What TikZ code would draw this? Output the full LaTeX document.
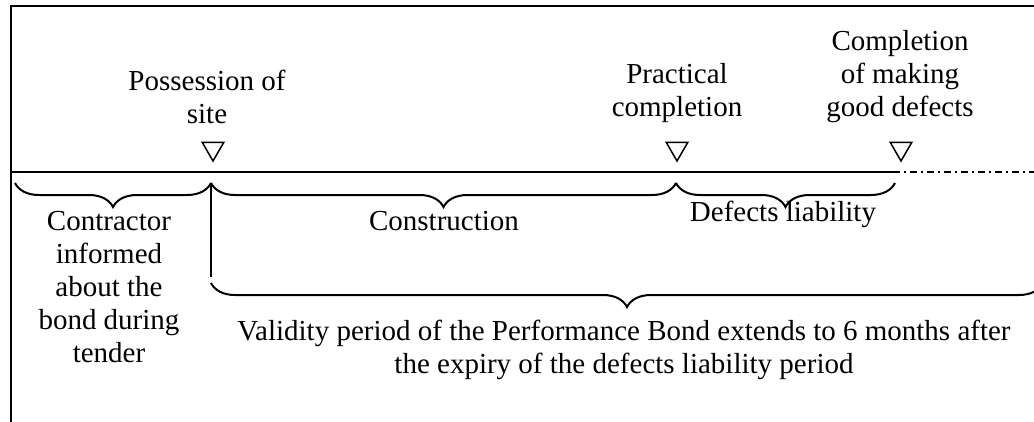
\documentclass[tikz,border=0pt]{standalone}
\usepackage{fontspec}
\setmainfont{Liberation Serif}
\usetikzlibrary{decorations.pathreplacing,shapes.geometric}
\begin{document}
\begin{tikzpicture}[x=1pt,y=-1pt,
  lbl/.style={font=\fontsize{29}{33}\selectfont, align=center, inner sep=0pt, anchor=base},
  tri/.style={draw, regular polygon, regular polygon sides=3, shape border rotate=180, minimum size=25pt, inner sep=0pt, line width=1.5pt},
  brc/.style={decorate, decoration={brace, mirror, amplitude=24pt}, line width=2pt},
  frameline/.style={line width=2.2pt},
  timeline/.style={line width=2pt},
  dashdotline/.style={line width=1.3pt, dash pattern=on 7pt off 4pt on 2pt off 4pt},
]
\clip (0,0) rectangle (1034,421);
% frame
\coordinate (fbl) at (11,430);
\coordinate (ftl) at (11,6);
\coordinate (ftr) at (1045,6);
\draw[frameline] (fbl) -- (ftl) -- (ftr);
% timeline
\coordinate (l0) at (11,172);
\coordinate (l1) at (893,172);
\coordinate (l2) at (1040,172);
\draw[timeline] (l0) -- (l1);
\draw[dashdotline] (l1) -- (l2);
% markers
\node[tri] (t1) at (213,148.5) {};
\node[tri] (t2) at (677,148.5) {};
\node[tri] (t3) at (901,148.5) {};
% top labels (base = last line)
\node[lbl] (pos) at (207,123) {Possession of\\site};
\node[lbl] (prac) at (677,116) {Practical\\completion};
\node[lbl] (comp) at (900,116) {Completion\\of making\\good defects};
% braces
\coordinate (b0) at (15,183);
\coordinate (b1) at (211,183);
\coordinate (b2) at (676,183);
\coordinate (b3) at (895,183);
\draw[brc] (b0) -- (b1);
\draw[brc] (b1) -- (b2);
\draw[brc] (b2) -- (b3);
% vertical line
\coordinate (v1) at (211,277);
\draw[timeline] (b1) -- (v1);
% big brace
\coordinate (g0) at (211,283);
\coordinate (g1) at (1043,283);
\draw[brc] (g0) -- (g1);
% lower labels
\node[lbl] (contr) at (109,362) {Contractor\\informed\\about the\\bond during\\tender};
\node[lbl] (cons) at (444,230) {Construction};
\node[lbl] (defl) at (783,221) {Defects liability};
\node[lbl] (valid) at (624,373) {Validity period of the Performance Bond extends to 6 months after\\the expiry of the defects liability period};
\end{tikzpicture}
\end{document}
